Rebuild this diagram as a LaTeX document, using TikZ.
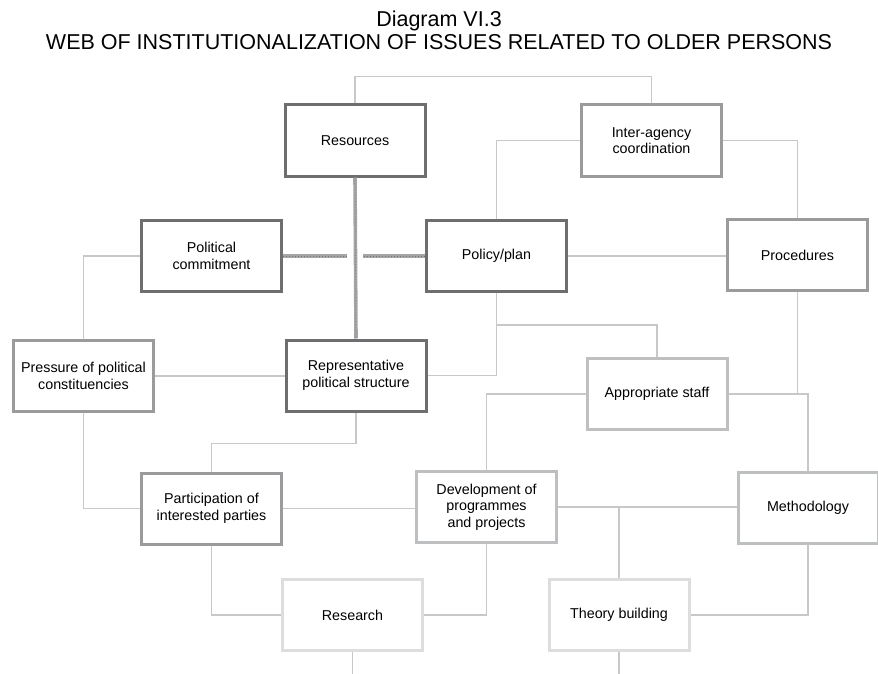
\documentclass[tikz,border=0pt]{standalone}
\usepackage{fontspec}
\setmainfont{Liberation Sans}
\usetikzlibrary{calc}
\definecolor{boxdark}{HTML}{6E6E70}
\definecolor{boxmid}{HTML}{9B9B9D}
\definecolor{boxlight}{HTML}{BEBFC1}
\definecolor{boxpale}{HTML}{DCDDDF}
\definecolor{linkgray}{HTML}{C8C8C8}
\definecolor{crossgray}{HTML}{A5A5A7}
\begin{document}
\begin{tikzpicture}[x=1pt,y=-1pt,
	box/.style={draw=#1, line width=3pt, rectangle, minimum width=140pt, minimum height=71pt, align=center, inner sep=2pt, font=\fontsize{14.3}{16.5}\selectfont},
	link/.style={draw=linkgray, line width=1.1pt},
	cross/.style={draw=crossgray, line width=3.6pt, postaction={draw=black!55, line width=0.7pt, dash pattern=on 0.7pt off 2.3pt}},
	headline/.style={anchor=base, font=\fontsize{21.5}{24}\selectfont}]
	\useasboundingbox (0,0) rectangle (878,674);
	% Titel
	\node[headline] (title) at (439,27) {Diagram VI.3};
	\node[headline] (subtitle) at (439,50) {WEB OF INSTITUTIONALIZATION OF ISSUES RELATED TO OLDER PERSONS};
	% Kaesten
	\node[box=boxdark] (res) at (355,140.5) {Resources};
	\node[box=boxmid] (iac) at (651.5,140.5) {Inter-agency\\coordination};
	\node[box=boxdark] (pol) at (211.5,256) {Political\\commitment};
	\node[box=boxdark] (plan) at (496.5,256) {Policy/plan};
	\node[box=boxmid] (proc) at (797.5,255) {Procedures};
	\node[box=boxmid] (press) at (83.5,376) {Pressure of political\\constituencies};
	\node[box=boxdark] (rep) at (356,375.5) {Representative\\political structure};
	\node[box=boxmid] (part) at (211.5,508.5) {Participation of\\interested parties};
	\node[box=boxlight] (staff) at (657,394) {Appropriate staff};
	\node[box=boxlight] (dev) at (486.5,507) {Development of\\programmes\\and projects};
	\node[box=boxlight] (meth) at (808,508) {Methodology};
	\node[box=boxpale] (resch) at (352.5,615) {Research};
	\node[box=boxpale] (theo) at (619,615) {Theory building};
	\coordinate (reschout) at (352.5,674);
	\coordinate (theoout) at (619,674);
	% Verbindungen
	\draw[link] (res.north) -- ++(0,-27) -| (iac.north);
	\draw[link] (iac.west) -| (plan.north);
	\draw[link] (iac.east) -| (proc.north);
	\draw[link] (plan.east) -- (plan.east -| proc.west);
	\draw[link] (plan.south) -- ++(0,32) -| (staff.north);
	\draw[link] (rep.east) -| (plan.south);
	\draw[link] (proc.south) |- (staff.east);
	\draw[link] (staff.east) -| (meth.north);
	\draw[link] (staff.west) -| (dev.north);
	\draw[link] (dev.east) -- (dev.east -| meth.west);
	\draw[link] (theo.north) |- (dev.east);
	\draw[link] (part.east) -- (part.east -| dev.west);
	\draw[link] (pol.west) -| (press.north);
	\draw[link] (press.east) -- (press.east -| rep.west);
	\draw[link] (press.south) |- (part.west);
	\draw[link] (rep.south) -- ++(0,31) -| (part.north);
	\draw[link] (part.south) |- (resch.west);
	\draw[link] (dev.south) |- (resch.east);
	\draw[link] (meth.south) |- (theo.east);
	\draw[link] (resch.south) -- (reschout);
	\draw[link] (theo.south) -- (theoout);
	% Kreuz
	\draw[cross] (res.south) -- (rep.north);
	\draw[cross] (pol.east) -- ($(pol.east -| res.south)+(-8,0)$);
	\draw[cross] (plan.west) -- ($(plan.west -| res.south)+(8,0)$);
\end{tikzpicture}
\end{document}
